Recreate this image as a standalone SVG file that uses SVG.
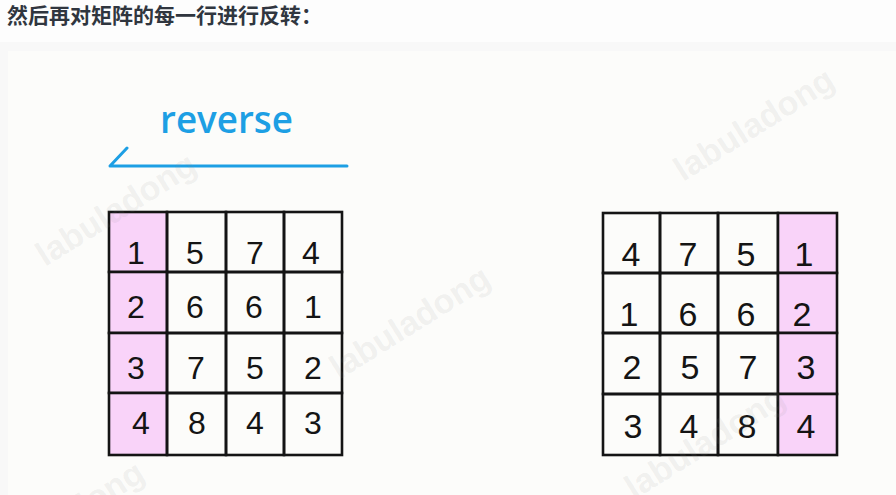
<svg xmlns="http://www.w3.org/2000/svg" width="896" height="495" viewBox="0 0 896 495">
  <defs>
    <style>
      .title { font-family: "Noto Sans CJK SC", "Noto Sans", sans-serif; font-weight: 700; font-size: 21px; fill: #30363f; }
      .cell { fill: none; stroke: #141414; stroke-width: 2.6; }
      .pink { fill: #f9d3f9; }
      .digit { font-family: "Liberation Sans", "DejaVu Sans", sans-serif; font-size: 32px; fill: #141414; text-anchor: middle; }
      .digitR { font-family: "Liberation Sans", "DejaVu Sans", sans-serif; font-size: 34px; fill: #141414; text-anchor: middle; }
      .wm { font-family: "Liberation Sans", Arial, sans-serif; font-weight: 700; font-size: 34px; fill: #8a8a8a; fill-opacity: 0.11; text-anchor: middle; }
      .blue { stroke: #1d9fe4; stroke-width: 3; fill: none; stroke-linecap: round; stroke-linejoin: round; }
      .label { font-family: "Open Sans", "DejaVu Sans", sans-serif; font-weight: 600; font-size: 37px; fill: #1d9fe4; }
    </style>
  </defs>
  <rect x="0" y="0" width="896" height="495" fill="#f8f8f8"/>
  <rect x="0" y="0" width="896" height="42" fill="#fdfdfd"/>
  <rect x="8" y="51" width="888" height="444" fill="#fcfcfa"/>
  <text class="title" x="7" y="23">然后再对矩阵的每一行进行反转：</text>

  <g id="label-reverse">
    <text class="label" x="160" y="133" textLength="133" lengthAdjust="spacingAndGlyphs">reverse</text>
  </g>

  <g id="left-matrix">
    <g id="L11"><rect class="pink" x="109" y="212" width="58" height="60"/><rect class="cell" x="109" y="212" width="58" height="60"/><text class="digit" x="136" y="264">1</text></g>
    <g id="L12"><rect class="cell" x="167" y="212" width="59" height="60"/><text class="digit" x="195" y="264">5</text></g>
    <g id="L13"><rect class="cell" x="226" y="212" width="58" height="60"/><text class="digit" x="255" y="264">7</text></g>
    <g id="L14"><rect class="cell" x="284" y="212" width="58" height="60"/><text class="digit" x="311" y="264">4</text></g>

    <g id="L21"><rect class="pink" x="109" y="272" width="58" height="61"/><rect class="cell" x="109" y="272" width="58" height="61"/><text class="digit" x="136" y="318">2</text></g>
    <g id="L22"><rect class="cell" x="167" y="272" width="59" height="61"/><text class="digit" x="195" y="318">6</text></g>
    <g id="L23"><rect class="cell" x="226" y="272" width="58" height="61"/><text class="digit" x="254" y="318">6</text></g>
    <g id="L24"><rect class="cell" x="284" y="272" width="58" height="61"/><text class="digit" x="313" y="318">1</text></g>

    <g id="L31"><rect class="pink" x="109" y="333" width="58" height="60"/><rect class="cell" x="109" y="333" width="58" height="60"/><text class="digit" x="136" y="379">3</text></g>
    <g id="L32"><rect class="cell" x="167" y="333" width="59" height="60"/><text class="digit" x="196" y="379">7</text></g>
    <g id="L33"><rect class="cell" x="226" y="333" width="58" height="60"/><text class="digit" x="255" y="379">5</text></g>
    <g id="L34"><rect class="cell" x="284" y="333" width="58" height="60"/><text class="digit" x="313" y="379">2</text></g>

    <g id="L41"><rect class="pink" x="109" y="393" width="58" height="62"/><rect class="cell" x="109" y="393" width="58" height="62"/><text class="digit" x="141" y="434">4</text></g>
    <g id="L42"><rect class="cell" x="167" y="393" width="59" height="62"/><text class="digit" x="197" y="434">8</text></g>
    <g id="L43"><rect class="cell" x="226" y="393" width="58" height="62"/><text class="digit" x="255" y="434">4</text></g>
    <g id="L44"><rect class="cell" x="284" y="393" width="58" height="62"/><text class="digit" x="313" y="434">3</text></g>
  </g>

  <g id="right-matrix">
    <g id="R11"><rect class="cell" x="603" y="213" width="57" height="60"/><text class="digitR" x="631" y="266">4</text></g>
    <g id="R12"><rect class="cell" x="660" y="213" width="58" height="60"/><text class="digitR" x="688" y="266">7</text></g>
    <g id="R13"><rect class="cell" x="718" y="213" width="60" height="60"/><text class="digitR" x="746" y="266">5</text></g>
    <g id="R14"><rect class="pink" x="778" y="213" width="59" height="60"/><rect class="cell" x="778" y="213" width="59" height="60"/><text class="digitR" x="804" y="266">1</text></g>

    <g id="R21"><rect class="cell" x="603" y="273" width="57" height="60"/><text class="digitR" x="629" y="326">1</text></g>
    <g id="R22"><rect class="cell" x="660" y="273" width="58" height="60"/><text class="digitR" x="688" y="326">6</text></g>
    <g id="R23"><rect class="cell" x="718" y="273" width="60" height="60"/><text class="digitR" x="746" y="326">6</text></g>
    <g id="R24"><rect class="pink" x="778" y="273" width="59" height="60"/><rect class="cell" x="778" y="273" width="59" height="60"/><text class="digitR" x="802" y="326">2</text></g>

    <g id="R31"><rect class="cell" x="603" y="333" width="57" height="61"/><text class="digitR" x="632" y="379">2</text></g>
    <g id="R32"><rect class="cell" x="660" y="333" width="58" height="61"/><text class="digitR" x="690" y="379">5</text></g>
    <g id="R33"><rect class="cell" x="718" y="333" width="60" height="61"/><text class="digitR" x="748" y="379">7</text></g>
    <g id="R34"><rect class="pink" x="778" y="333" width="59" height="61"/><rect class="cell" x="778" y="333" width="59" height="61"/><text class="digitR" x="806" y="379">3</text></g>

    <g id="R41"><rect class="cell" x="603" y="394" width="57" height="61"/><text class="digitR" x="633" y="438">3</text></g>
    <g id="R42"><rect class="cell" x="660" y="394" width="58" height="61"/><text class="digitR" x="689" y="438">4</text></g>
    <g id="R43"><rect class="cell" x="718" y="394" width="60" height="61"/><text class="digitR" x="747" y="438">8</text></g>
    <g id="R44"><rect class="pink" x="778" y="394" width="59" height="61"/><rect class="cell" x="778" y="394" width="59" height="61"/><text class="digitR" x="806" y="438">4</text></g>
  </g>

  <g id="connectors">
    <path class="blue" d="M347,166 L110,166 L127,148"/>
  </g>

  <g id="watermarks">
    <text class="wm" transform="translate(760,134) rotate(-32)">labuladong</text>
    <text class="wm" transform="translate(122,219) rotate(-32)">labuladong</text>
    <text class="wm" transform="translate(416,332) rotate(-32)">labuladong</text>
    <text class="wm" transform="translate(711,452) rotate(-32)">labuladong</text>
    <text class="wm" transform="translate(70,527) rotate(-32)">labuladong</text>
  </g>
</svg>
